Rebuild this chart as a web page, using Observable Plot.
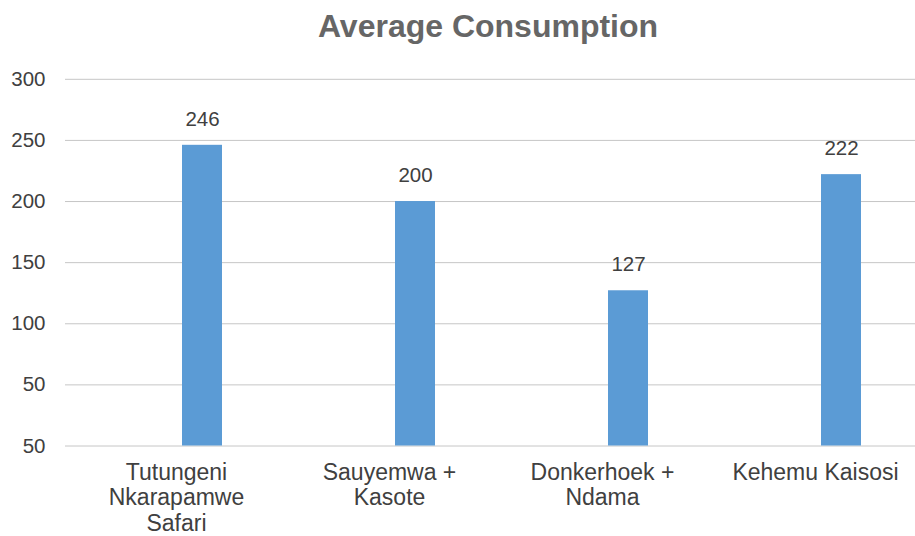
<!DOCTYPE html>
<html><head><meta charset="utf-8">
<script src="https://cdn.jsdelivr.net/npm/d3@7"></script>
<script src="https://cdn.jsdelivr.net/npm/@observablehq/plot@0.6"></script>
<style>
body{margin:0;background:#fff;font-family:"Liberation Sans",Arial,sans-serif;}
#title{height:60px;line-height:52px;font-size:32px;font-weight:bold;color:#666;text-align:center;padding-left:61px;box-sizing:border-box;width:915px;overflow:hidden;}
</style></head><body>
<div id="title">Average Consumption</div>
<div id="chart"></div>
<script>
const categories = ["Tutungeni\nNkarapamwe\nSafari","Sauyemwa +\nKasote","Donkerhoek +\nNdama","Kehemu Kaisosi"];
const values = [246,200,127,222];
const yTicks = [0,50,100,150,200,250,300];
const yTickLabels = ["50","50","100","150","200","250","300"];
const data = categories.map((c,i)=>({category:c, value:values[i]}));
const label = d => yTickLabels[yTicks.indexOf(d)];
const plot = Plot.plot({
  width:915, height:476, marginTop:18.8, marginBottom:90.5, marginLeft:65, marginRight:0,
  style:{fontFamily:'"Liberation Sans", Arial, sans-serif', color:"#404040", background:"#fff"},
  x:{domain:categories, range:[95,949], paddingInner:0.81, paddingOuter:0.405, label:null},
  y:{domain:[0,300], range:[385.5,18.8], label:null},
  marks:[
    Plot.gridY(yTicks, {stroke:"#c6c6c6", strokeOpacity:1}),
    Plot.barY(data,{x:"category",y:"value",fill:"#5b9bd5"}),
    Plot.text(data,{x:"category",y:"value",text:d=>String(d.value),dy:-26,fontSize:20.5,fill:"#404040"}),
    Plot.axisY(yTicks, {tickSize:0, tickPadding:20, tickFormat:label, fontSize:20.5, fill:"#404040"}),
    Plot.axisX({tickSize:0, tickPadding:16, fontSize:23, lineHeight:1.1, fill:"#404040", dx:-26})
  ]
});
document.getElementById("chart").appendChild(plot);
</script>
</body></html>
